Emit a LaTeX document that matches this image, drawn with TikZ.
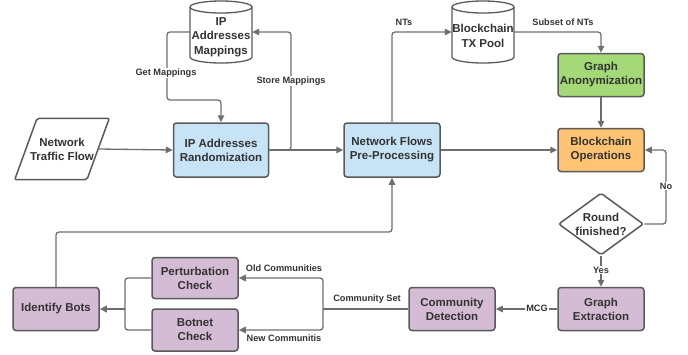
\documentclass[tikz,border=0pt]{standalone}
\usepackage{fontspec}
\setmainfont{Liberation Sans}
\usetikzlibrary{arrows.meta,shapes.geometric}

\definecolor{edgegray}{HTML}{6E6E6E}
\definecolor{bordergray}{HTML}{5A5A5A}
\definecolor{txt}{HTML}{333333}
\definecolor{fillblue}{HTML}{C6E4F5}
\definecolor{fillgreen}{HTML}{A3D977}
\definecolor{fillorange}{HTML}{FFC374}
\definecolor{fillpurple}{HTML}{D4BCD4}

\tikzset{
  boxfont/.style={font=\fontsize{11.5}{14}\selectfont\bfseries},
  box/.style={rectangle, rounded corners=3pt, draw=bordergray, line width=1.5pt,
    align=center, inner sep=0pt, text=txt, boxfont},
  bluebox/.style={box, fill=fillblue, minimum width=95pt, minimum height=54pt},
  greenbox/.style={box, fill=fillgreen, minimum width=86pt, minimum height=43pt},
  orangebox/.style={box, fill=fillorange, minimum width=86pt, minimum height=43pt},
  purplebox/.style={box, fill=fillpurple, minimum width=86pt, minimum height=43pt},
  dbtext/.style={align=center, inner sep=0pt, text=txt, minimum width=62pt,
    font=\fontsize{11.5}{14.5}\selectfont\bfseries},
  dbshape/.style={draw=bordergray, line width=1.3pt, fill=white},
  conn/.style={draw=edgegray, line width=1.3pt, rounded corners=3pt},
  arr/.style={conn, -{Triangle[length=7pt,width=6.5pt]}},
  lbl/.style={font=\fontsize{9.2}{11}\selectfont\bfseries, text=txt, inner sep=1pt},
  lblw/.style={lbl, fill=white},
}

% database drawing: cylinder centred on a point, width 62pt, height 62pt
\newcommand{\dbcyl}[1]{%
  \path[dbshape] ([xshift=-31pt,yshift=25pt]#1)
    -- ([xshift=-31pt,yshift=-25pt]#1)
    arc[start angle=180,end angle=360,x radius=31pt,y radius=6pt]
    -- ([xshift=31pt,yshift=25pt]#1)
    arc[start angle=0,end angle=180,x radius=31pt,y radius=6pt] -- cycle;
  \draw[bordergray, line width=1.3pt] ([xshift=-31pt,yshift=25pt]#1)
    arc[start angle=180,end angle=360,x radius=31pt,y radius=6pt];}

\begin{document}
\begin{tikzpicture}[x=1pt,y=-1pt]
\useasboundingbox (0,0) rectangle (688,354);

% storage cylinders
\coordinate (ipmc) at (221,32);
\coordinate (txpc) at (483,32);
\dbcyl{ipmc}
\dbcyl{txpc}
\node[dbtext] (ipm) at (221,37) {IP\\Addresses\\Mappings};
\node[dbtext] (txp) at (483,36) {Blockchain\\TX Pool};

% input (parallelogram)
\node[trapezium, trapezium left angle=70, trapezium right angle=110,
      inner xsep=-7pt, inner ysep=19.5pt,
      draw=bordergray, line width=1.5pt, fill=white, rounded corners=2pt,
      align=center, text=txt, boxfont] (ntf) at (62,149) {Network\\Traffic Flow};

% processing boxes
\node[bluebox] (ipr) at (221,150) {IP Addresses\\Randomization};
\node[bluebox, minimum width=96pt] (nfp) at (392,150) {Network Flows\\Pre-Processing};
\node[greenbox] (ga) at (601,75) {Graph\\Anonymization};
\node[orangebox] (bo) at (601,150) {Blockchain\\Operations};
\node[diamond, draw=bordergray, line width=1.5pt, fill=white, rounded corners=2pt,
      minimum width=85pt, minimum height=62pt, inner sep=0pt,
      label={[align=center, text=txt, boxfont, inner sep=0pt]center:Round\\finished?}] (rf) at (601,224) {};
\node[purplebox] (ge) at (601,309) {Graph\\Extraction};
\node[purplebox] (cd) at (452,309) {Community\\Detection};
\node[purplebox, minimum height=41pt] (pc) at (195,278) {Perturbation\\Check};
\node[purplebox, minimum height=42pt] (bc) at (195,330) {Botnet\\Check};
\node[purplebox] (ib) at (56,309) {Identify Bots};

% routing points
\coordinate (gmA) at (167,32);
\coordinate (gmB) at (167,100);
\coordinate (gmC) at (221,100);
\coordinate (smA) at (291,32);
\coordinate (noA) at (666,190);
\coordinate (cs) at (323,309);
\coordinate (mg) at (125,309);
\coordinate (bk) at (392,232);

% connectors
\draw[arr] (ntf.east) -- (ipr.west);
\draw[arr] ([yshift=5pt]ipm.west) -- (gmA) -- (gmB) -- (gmC) -- (ipr.north);
\draw[arr] (ipr.east) -| (smA) -- ([yshift=5pt]ipm.east);
\draw[arr] (ipr.east) -- (nfp.west);
\draw[arr] (nfp.north) |- ([yshift=4pt]txp.west);
\draw[arr] ([yshift=4pt]txp.east) -| (ga.north);
\draw[arr] (ga.south) -- (bo.north);
\draw[arr] (nfp.east) -- (bo.west);
\draw[arr] (rf.east) -| (noA) |- (bo.east);
\draw[arr] (rf.south) -- (ge.north);
\draw[arr] (ge.west) -- (cd.east);
\draw[conn] (cd.west) -- (cs);
\draw[arr] (cs) |- (pc.east);
\draw[arr] (cs) |- (bc.east);
\draw[conn] (pc.west) -| (mg);
\draw[conn] (bc.west) -| (mg);
\draw[draw=edgegray, line width=2.3pt, -{Triangle[length=7pt,width=6.5pt]}] (mg) -- (ib.east);
\draw[arr] (ib.north) |- (bk) -- (nfp.south);

% connector labels
\node[lblw] (lgm) at (166,73) {Get Mappings};
\node[lblw] (lsm) at (291,81) {Store Mappings};
\node[lbl] (lnt) at (404,22) {NTs};
\node[lbl] (lsn) at (563,22) {Subset of NTs};
\node[lblw] (lno) at (666,186) {No};
\node[lblw] (lyes) at (601,270) {Yes};
\node[lblw] (lmcg) at (537,308) {MCG};
\node[lbl] (lcs) at (367,299) {Community Set};
\node[lbl] (loc) at (284,268) {Old Communities};
\node[lbl] (lnc) at (284,338) {New Communitis};
\end{tikzpicture}
\end{document}
